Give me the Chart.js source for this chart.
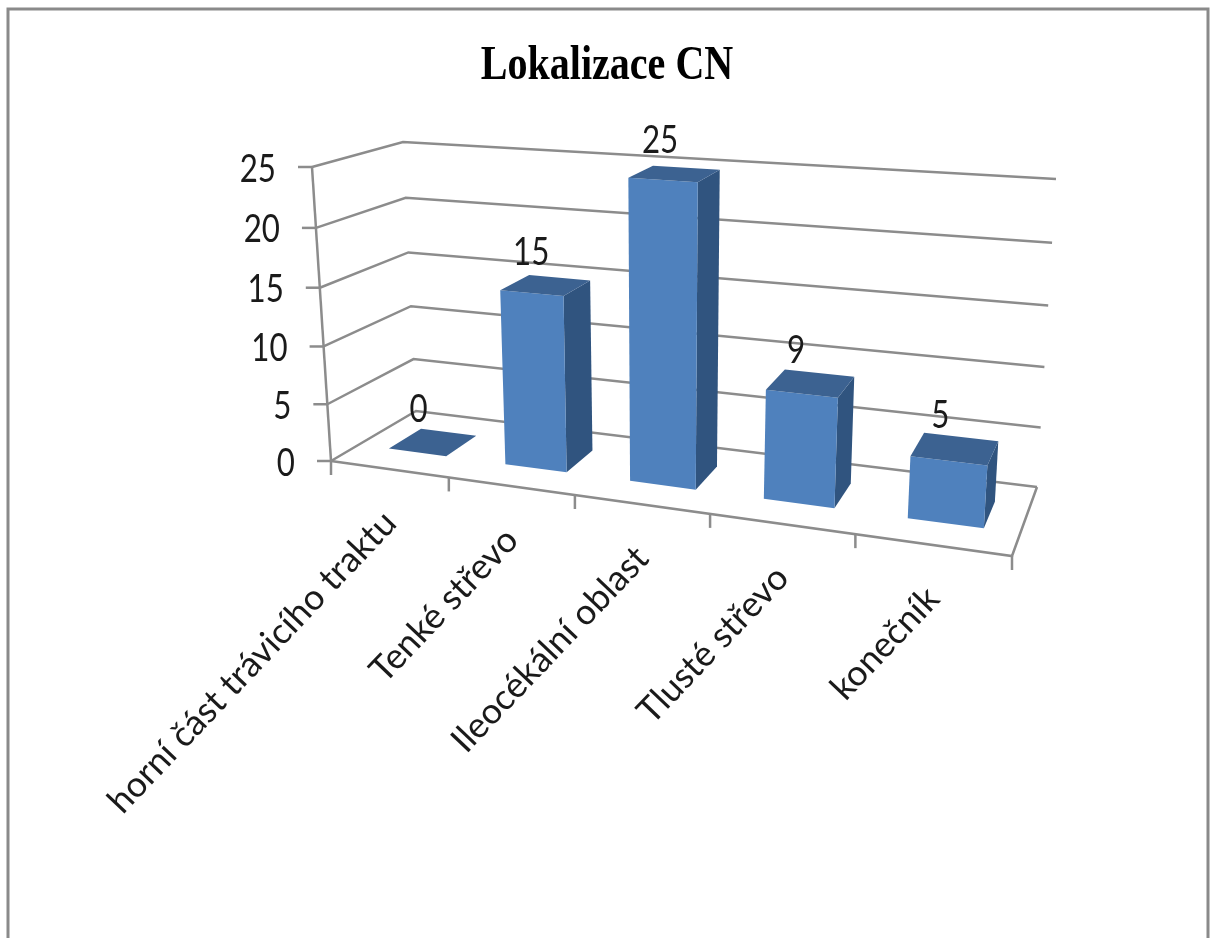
<!DOCTYPE html>
<html lang="cs">
<head>
<meta charset="utf-8">
<title>Lokalizace CN</title>
<style>
  html, body { margin: 0; padding: 0; background: #fff; }
  canvas { display: block; }
</style>
<script src="https://cdn.jsdelivr.net/npm/chart.js@4/dist/chart.umd.min.js"></script>
</head>
<body>
<canvas id="chart" width="1214" height="938"></canvas>
<script>
const chartTitle = 'Lokalizace CN';
const categories = ['horní část trávicího traktu', 'Tenké střevo', 'Ileocékální oblast', 'Tlusté střevo', 'konečník'];
const counts = [0, 15, 25, 9, 5];
const axisMax = 25;
const axisStep = 5;

// Screen corners of the 3D box: [bottom, top] for each floor corner.
const box = {
  frontLeft:  [[331, 461], [312, 167]],
  frontRight: [[1012, 556], [1033, 218]],
  backLeft:   [[416, 411], [403, 142]],
  backRight:  [[1037, 487], [1056, 179]]
};
const perspectiveX = 0.837;
const perspectiveY = 0.957;
const depthNear = 0.33;
const depthFar = 0.72;
const barShift = 0.0035;

const mix = (p, q, t) => [p[0] + (q[0] - p[0]) * t, p[1] + (q[1] - p[1]) * t];

// u runs along the categories, v up the value axis, w into the depth of the box.
function project(u, v, w) {
  const U = perspectiveX * u / (1 + (perspectiveX - 1) * u);
  const V = perspectiveY * v / (1 + (perspectiveY - 1) * v);
  const corner = c => mix(c[0], c[1], V);
  const near = mix(corner(box.frontLeft), corner(box.frontRight), U);
  const far = mix(corner(box.backLeft), corner(box.backRight), U);
  return mix(near, far, w);
}

function polygon(ctx, points, fill) {
  ctx.beginPath();
  points.forEach((p, i) => i ? ctx.lineTo(p[0], p[1]) : ctx.moveTo(p[0], p[1]));
  ctx.closePath();
  ctx.fillStyle = fill;
  ctx.fill();
}

function polyline(ctx, points) {
  ctx.beginPath();
  points.forEach((p, i) => i ? ctx.lineTo(p[0], p[1]) : ctx.moveTo(p[0], p[1]));
  ctx.stroke();
}

// Text with independent horizontal and vertical stretch.
function label(ctx, text, x, y, o) {
  ctx.save();
  ctx.translate(x, y);
  if (o.rotate) ctx.rotate(o.rotate);
  ctx.scale(o.sx || 1, o.sy || 1);
  ctx.font = o.font;
  ctx.fillStyle = o.color || '#1a1a1a';
  ctx.textAlign = o.align || 'center';
  ctx.textBaseline = 'middle';
  ctx.fillText(text, 0, 0);
  ctx.restore();
}

const box3d = {
  id: 'box3d',
  beforeDraw(chart) {
    const ctx = chart.ctx;
    // Outer frame, open at the bottom edge.
    ctx.save();
    ctx.strokeStyle = '#8a8a8a';
    ctx.lineWidth = 3;
    polyline(ctx, [[8, 938], [8, 9], [1208, 9], [1208, 938]]);
    ctx.restore();
    label(ctx, chartTitle, 607, 67, {
      font: 'bold 44px "Liberation Serif"', color: '#000', sx: 0.91, sy: 1.1
    });
  },
  beforeDatasetsDraw(chart) {
    const { ctx, scales: { y } } = chart;
    const span = y.bottom - y.top;
    ctx.save();
    ctx.strokeStyle = '#8c8c8c';
    ctx.lineWidth = 2.5;
    y.ticks.forEach(t => {
      const v = (y.bottom - y.getPixelForValue(t.value)) / span;
      const a = project(0, v, 0);
      polyline(ctx, [a, project(0, v, 1), project(1, v, 1)]);
      polyline(ctx, [a, [a[0] - 14, a[1]]]);
      label(ctx, t.label, a[0] - 36, a[1] + 2, {
        font: '34px Lato', align: 'right', sx: 0.92, sy: 1.14
      });
    });
    polyline(ctx, [project(0, 0, 0), project(0, 1, 0)]);
    polyline(ctx, [project(0, 0, 0), project(1, 0, 0), project(1, 0, 1)]);
    for (let i = 0; i <= categories.length; i++) {
      const p = project(i / categories.length, 0, 0);
      polyline(ctx, [p, [p[0], p[1] + 14]]);
    }
    ctx.restore();
  },
  beforeDatasetDraw(chart) {
    const { ctx, chartArea: area, scales: { x } } = chart;
    const meta = chart.getDatasetMeta(0);
    const width = area.right - area.left;
    const height = area.bottom - area.top;
    meta.data.forEach((bar, i) => {
      const b = bar.getProps(['x', 'y', 'base', 'width'], true);
      const u0 = (b.x - b.width / 2 - area.left) / width + barShift;
      const u1 = (b.x + b.width / 2 - area.left) / width + barShift;
      const v = (b.base - b.y) / height;
      const fl0 = project(u0, 0, depthNear), fr0 = project(u1, 0, depthNear);
      const br0 = project(u1, 0, depthFar);
      const fl = project(u0, v, depthNear), fr = project(u1, v, depthNear);
      const br = project(u1, v, depthFar), bl = project(u0, v, depthFar);
      polygon(ctx, [fr0, br0, br, fr], '#30547f');
      polygon(ctx, [fl0, fr0, fr, fl], '#4f81bd');
      polygon(ctx, [fl, fr, br, bl], '#3c6291');
      const cx = (fl[0] + br[0]) / 2, cy = (fl[1] + br[1]) / 2;
      label(ctx, String(counts[i]), cx - 14, cy - 33, {
        font: '34px Lato', sx: 0.92, sy: 1.14
      });
      const end = project((i + 0.5) / categories.length, 0, 0);
      label(ctx, x.getLabelForValue(i), end[0] + 1, end[1] + 48, {
        font: '35.5px Lato', align: 'right', rotate: -46.5 * Math.PI / 180
      });
    });
    return false;
  }
};

new Chart(document.getElementById('chart'), {
  type: 'bar',
  data: {
    labels: categories,
    datasets: [{ label: chartTitle, data: counts, barPercentage: 0.5, categoryPercentage: 1 }]
  },
  options: {
    responsive: false,
    animation: false,
    layout: { padding: { left: 331, right: 201, top: 167, bottom: 477 } },
    plugins: { legend: { display: false }, tooltip: { enabled: false } },
    scales: {
      x: { display: false, offset: true },
      y: { display: false, min: 0, max: axisMax, ticks: { stepSize: axisStep } }
    }
  },
  plugins: [box3d]
});
</script>
</body>
</html>
